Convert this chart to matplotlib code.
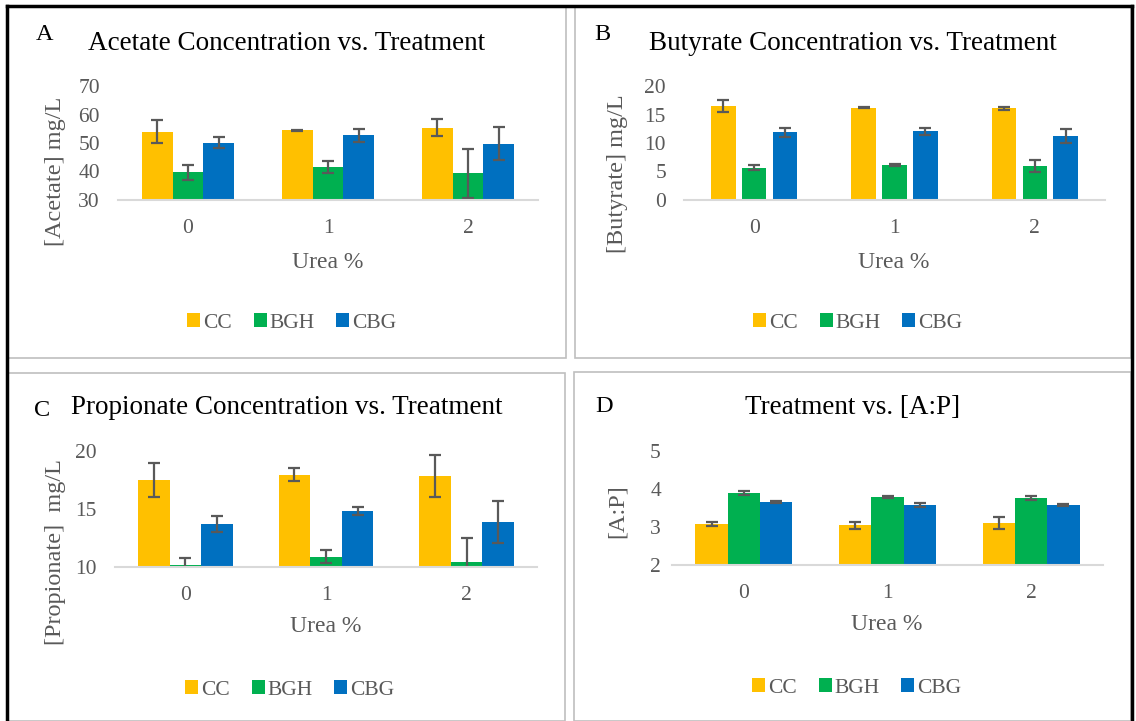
import numpy as np
import matplotlib
matplotlib.use('Agg')
import matplotlib.pyplot as plt
from matplotlib.patches import Rectangle
from matplotlib.lines import Line2D

plt.rcParams['font.family'] = ['Liberation Serif', 'DejaVu Serif']

urea = ['0', '1', '2']
groups = ['CC', 'BGH', 'CBG']
colors = ['#FFC000', '#00B050', '#0070C0']

acetate = [[54.0, 54.4, 55.4], [39.7, 41.5, 39.4], [50.1, 52.7, 49.8]]
acetate_err = [[3.9, 0.3, 3.1], [2.7, 2.1, 8.6], [2.0, 2.2, 5.9]]

butyrate = [[16.5, 16.2, 16.1], [5.7, 6.2, 6.0], [11.9, 12.05, 11.2]]
butyrate_err = [[1.1, 0.1, 0.3], [0.4, 0.15, 1.05], [0.8, 0.6, 1.2]]

propionate = [[17.5, 17.95, 17.85], [10.17, 10.9, 10.4], [13.7, 14.85, 13.9]]
propionate_err = [[1.45, 0.55, 1.8], [0.6, 0.53, 2.13], [0.68, 0.36, 1.82]]

ap_ratio = [[3.08, 3.05, 3.11], [3.89, 3.79, 3.76], [3.66, 3.57, 3.57]]
ap_ratio_err = [[0.05, 0.09, 0.16], [0.05, 0.02, 0.06], [0.03, 0.05, 0.03]]

W, H = 1136, 721
fig = plt.figure(figsize=(W / 100, H / 100), dpi=100)

def fx(x):
    return x / W

def fy(y):
    return 1 - y / H

def add_ax(x0, y0, x1, y1):
    return fig.add_axes([fx(x0), fy(y1), fx(x1) - fx(x0), fy(y0) - fy(y1)])

# panel frames (gray) and outer black frame
for (x0, y0, x1, y1) in [(8, 7, 566, 358), (575, 7, 1131, 358), (8, 373, 565, 721), (574, 372, 1131, 721)]:
    fig.patches.append(Rectangle((fx(x0), fy(y1)), fx(x1) - fx(x0), fy(y0) - fy(y1),
                                 transform=fig.transFigure, fill=False, ec='#BFBFBF', lw=1.2))
fig.lines.append(Line2D([fx(7), fx(1132)], [fy(6), fy(6)], transform=fig.transFigure, color='black', lw=2.5))
fig.lines.append(Line2D([fx(7), fx(7)], [fy(6), fy(721)], transform=fig.transFigure, color='black', lw=2.5))
fig.lines.append(Line2D([fx(1132), fx(1132)], [fy(6), fy(721)], transform=fig.transFigure, color='black', lw=2.5))

panels = [
    dict(rect=(118, 86, 538, 200), data=acetate, err=acetate_err, ylim=(30, 70), step=10,
         title='Acetate Concentration vs. Treatment', tpos=(287, 43), letter='A', lpos=(45, 35),
         ylabel='[Acetate] mg/L', ylpos=(56, 171), xlpos=(328, 262), legpos=(292, 323),
         width=0.218, gap=0.0, pad=14),
    dict(rect=(684, 86, 1105, 200), data=butyrate, err=butyrate_err, ylim=(0, 20), step=5,
         title='Butyrate Concentration vs. Treatment', tpos=(853, 43), letter='B', lpos=(602, 35),
         ylabel='[Butyrate] mg/L', ylpos=(617, 174), xlpos=(894, 262), legpos=(858, 323),
         width=0.175, gap=0.045, pad=14),
    dict(rect=(115, 451, 537, 567), data=propionate, err=propionate_err, ylim=(10, 20), step=5,
         title='Propionate Concentration vs. Treatment', tpos=(287, 408), letter='C', lpos=(42, 410),
         ylabel='[Propionate]  mg/L', ylpos=(55, 552), xlpos=(326, 627), legpos=(290, 690),
         width=0.225, gap=0.0, pad=14),
    dict(rect=(672, 451, 1103, 565), data=ap_ratio, err=ap_ratio_err, ylim=(2, 5), step=1,
         title='Treatment vs. [A:P]', tpos=(853, 407), letter='D', lpos=(604, 407),
         ylabel='[A:P]', ylpos=(617, 511), xlpos=(887, 625), legpos=(857, 688),
         width=0.225, gap=0.0, pad=9),
]

x = np.arange(len(urea))
for p in panels:
    ax = add_ax(*p['rect'])
    step = p['width'] + p['gap']
    for i, g in enumerate(groups):
        ax.bar(x + (i - 1) * step, p['data'][i], width=p['width'], color=colors[i],
               yerr=p['err'][i], capsize=4,
               error_kw=dict(ecolor='#595959', elinewidth=1.6, capthick=1.6), label=g, zorder=2)
    ax.set_xlim(-0.5, 2.5)
    ax.set_ylim(*p['ylim'])
    ax.set_yticks(np.arange(p['ylim'][0], p['ylim'][1] + 0.1, p['step']))
    ax.set_xticks(x)
    ax.set_xticklabels(urea)
    for s in ['top', 'right', 'left']:
        ax.spines[s].set_visible(False)
    ax.spines['bottom'].set_color('#D9D9D9')
    ax.spines['bottom'].set_linewidth(1.5)
    ax.tick_params(length=0, labelsize=15.5, colors='#595959')
    ax.tick_params(axis='y', pad=p['pad'] - 1)
    ax.tick_params(axis='x', pad=14)
    ax.set_facecolor('none')

    fig.text(fx(p['tpos'][0]), fy(p['tpos'][1]), p['title'], ha='center', va='center', fontsize=19.5, color='black')
    fig.text(fx(p['lpos'][0]), fy(p['lpos'][1]), p['letter'], ha='center', va='center', fontsize=17.5, color='black')
    fig.text(fx(p['ylpos'][0]), fy(p['ylpos'][1]), p['ylabel'], ha='center', va='center', rotation=90,
             fontsize=17.5, color='#595959')
    fig.text(fx(p['xlpos'][0]), fy(p['xlpos'][1]), 'Urea %', ha='center', va='center', fontsize=17, color='#595959')
    leg = ax.legend(loc='center', bbox_to_anchor=(fx(p['legpos'][0]), fy(p['legpos'][1])),
                    bbox_transform=fig.transFigure, ncol=3, frameon=False, fontsize=15.5,
                    handlelength=0.6, handleheight=0.6, handletextpad=0.15, columnspacing=1.0)
    for t in leg.get_texts():
        t.set_color('#595959')

fig.savefig('out.png', dpi=100, facecolor='white')
